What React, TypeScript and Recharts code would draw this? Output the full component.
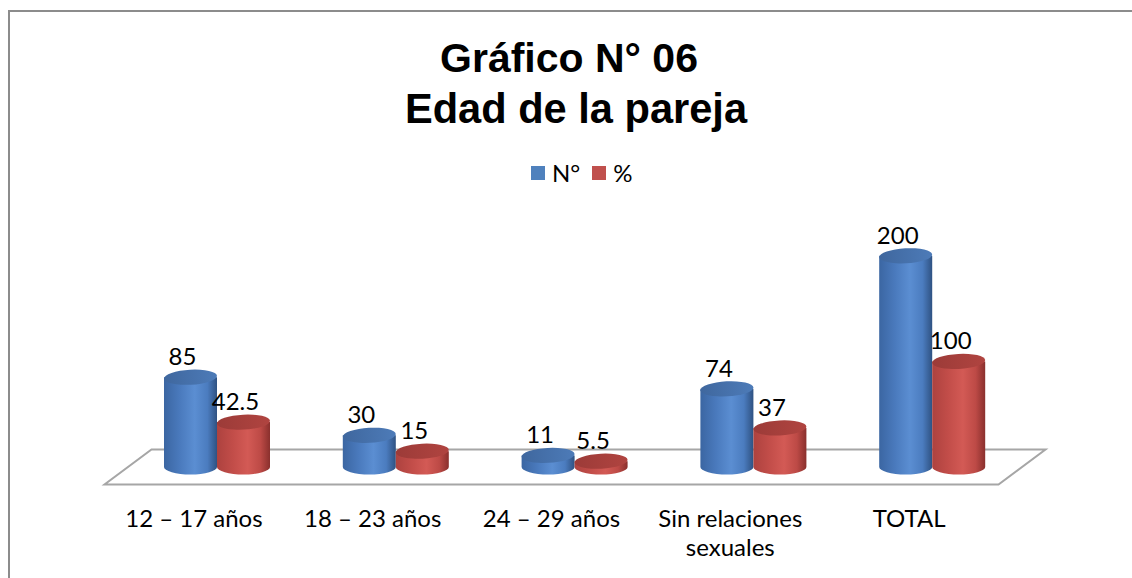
import React from "react";
import { BarChart, Bar, XAxis, YAxis, Legend, LabelList } from "recharts";

const categories = ["12 – 17 años", "18 – 23 años", "24 – 29 años", "Sin relaciones sexuales", "TOTAL"];
const nValues = [85, 30, 11, 74, 200];
const pctValues = [42.5, 15, 5.5, 37, 100];
const seriesNames = ["N°", "%"];
const titleLines = ["Gráfico N° 06", "Edad de la pareja"];

const data = categories.map((c, i) => ({ cat: c, n: nValues[i], pct: pctValues[i] }));

const W = 1150;
const H = 580;
const MARGIN = { top: 191, right: 138, bottom: 65, left: 118 };
const XAXIS_H = 60;
const DEPTH_X = 23.5;
const DEPTH_Y = 17.5;
const LABEL_FONT = "Lato, 'Open Sans', sans-serif";
const LABEL_SIZE = 24;

const palettes: Record<string, { stops: string[]; top: [string, string] }> = {
  blue: { stops: ["#3b66a2", "#4a7abd", "#5b8ed2", "#4b7cbf", "#2f5282"], top: ["#3f679e", "#4d7bb8"] },
  red: { stops: ["#ad423f", "#c24d49", "#d35a55", "#bd4a46", "#8a302d"], top: ["#9c3b38", "#b04440"] },
};

const Cylinder = (props: any) => {
  const { x, y, width, height, index, colorKey } = props;
  const p = palettes[colorKey];
  const rx = width / 2;
  const ry = 7.5;
  const h = Math.max(height, 0);
  const id = `g-${colorKey}-${index}`;
  const idTop = `t-${colorKey}-${index}`;
  const offs = ["0%", "30%", "58%", "82%", "100%"];
  return (
    <g>
      <defs>
        <linearGradient id={id} x1="0" y1="0" x2="1" y2="0">
          {p.stops.map((c, i) => (
            <stop key={i} offset={offs[i]} stopColor={c} />
          ))}
        </linearGradient>
        <linearGradient id={idTop} x1="0" y1="0" x2="1" y2="0">
          <stop offset="0%" stopColor={p.top[0]} />
          <stop offset="100%" stopColor={p.top[1]} />
        </linearGradient>
      </defs>
      <path
        d={`M${x},${y} L${x},${y + h} A${rx},${ry} 0 0 0 ${x + width},${y + h} L${x + width},${y} Z`}
        fill={`url(#${id})`}
      />
      <ellipse
        cx={x + rx}
        cy={y}
        rx={rx}
        ry={ry}
        fill={`url(#${idTop})`}
        transform={`rotate(-3 ${x + rx} ${y})`}
      />
    </g>
  );
};

const ValueLabel = (props: any) => {
  const { x, y, width, value } = props;
  return (
    <text x={x + width / 2 - 8} y={y - 12} textAnchor="middle" fontFamily={LABEL_FONT} fontSize={LABEL_SIZE} fill="#000">
      {value}
    </text>
  );
};

const CategoryTick = (props: any) => {
  const { x, y, payload } = props;
  const words: string[] = payload.value === "Sin relaciones sexuales" ? ["Sin relaciones", "sexuales"] : [payload.value];
  return (
    <g>
      {words.map((w, i) => (
        <text key={i} x={x - DEPTH_X} y={y + 52 + i * 29} textAnchor="middle" fontFamily={LABEL_FONT} fontSize={LABEL_SIZE} fill="#000">
          {w}
        </text>
      ))}
    </g>
  );
};

const LegendContent = () => {
  const colors = ["#4f81bd", "#c0504d"];
  return (
    <div style={{ display: "flex", alignItems: "center", fontFamily: LABEL_FONT, fontSize: LABEL_SIZE, color: "#000" }}>
      {seriesNames.map((s, i) => (
        <div key={s} style={{ display: "flex", alignItems: "center", marginRight: 12 }}>
          <div style={{ width: 14, height: 14, background: colors[i], marginRight: 7 }} />
          <span style={{ lineHeight: "24px" }}>{s}</span>
        </div>
      ))}
    </div>
  );
};

export default function App() {
  const plotRight = W - MARGIN.right;
  const baseY = H - MARGIN.bottom - XAXIS_H;
  const floor = [
    [MARGIN.left + DEPTH_X, baseY - DEPTH_Y],
    [plotRight + DEPTH_X, baseY - DEPTH_Y],
    [plotRight - DEPTH_X, baseY + DEPTH_Y],
    [MARGIN.left - DEPTH_X, baseY + DEPTH_Y],
  ]
    .map((p) => p.join(","))
    .join(" ");
  return (
    <div style={{ position: "fixed", left: 0, top: 0, width: 1132, height: 578, overflow: "hidden", background: "#fff" }}>
      <style>{"html,body{overflow:hidden;} svg, svg *, div{outline:none !important;}"}</style>
      <div
        style={{
          position: "absolute",
          left: 8,
          top: 10,
          borderTop: "2px solid #8c8c8c",
          borderLeft: "2px solid #8c8c8c",
          width: W,
          height: H,
        }}
      >
        <svg width={W} height={H} style={{ position: "absolute", left: 0, top: 0 }}>
          <text x={559} y={60} textAnchor="middle" fontFamily="'Liberation Sans', Arial, sans-serif" fontWeight="bold" fontSize={41} fill="#000">
            {titleLines[0]}
          </text>
          <text x={566} y={111} textAnchor="middle" fontFamily="'Liberation Sans', Arial, sans-serif" fontWeight="bold" fontSize={41.6} fill="#000">
            {titleLines[1]}
          </text>
          <polygon points={floor} fill="#fff" stroke="#a6a6a6" strokeWidth={2} />
        </svg>
        <div style={{ position: "absolute", left: 0, top: 0 }}>
          <BarChart width={W} height={H} data={data} margin={MARGIN} barGap={0} barSize={53} accessibilityLayer={false}>
            <XAxis dataKey="cat" axisLine={false} tickLine={false} height={XAXIS_H} interval={0} tick={<CategoryTick />} />
            <YAxis hide domain={[0, 250]} />
            <Legend
              layout="horizontal"
              verticalAlign="middle"
              align="center"
              content={<LegendContent />}
              wrapperStyle={{ top: 149, left: 521, width: 200, height: 24 }}
            />
            <Bar dataKey="n" name={seriesNames[0]} fill="#4f81bd" isAnimationActive={false} shape={<Cylinder colorKey="blue" />}>
              <LabelList dataKey="n" content={<ValueLabel />} />
            </Bar>
            <Bar dataKey="pct" name={seriesNames[1]} fill="#c0504d" isAnimationActive={false} shape={<Cylinder colorKey="red" />}>
              <LabelList dataKey="pct" content={<ValueLabel />} />
            </Bar>
          </BarChart>
        </div>
      </div>
    </div>
  );
}
